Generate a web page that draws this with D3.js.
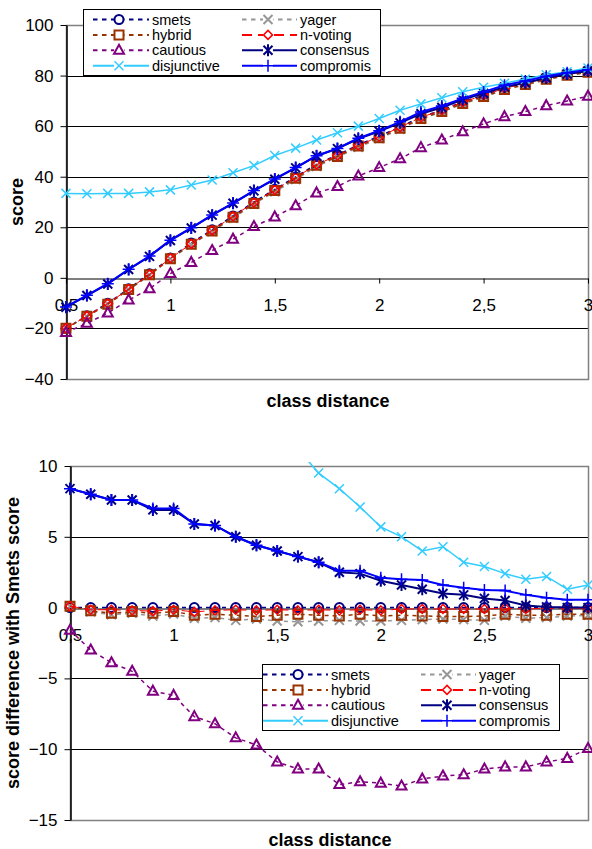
<!DOCTYPE html>
<html>
<head>
<meta charset="utf-8">
<script src="https://cdnjs.cloudflare.com/ajax/libs/d3/7.8.5/d3.min.js"></script>
<style>
    html, body { margin: 0; padding: 0; background: #fff; }
    svg { display: block; font-family: "Liberation Sans", Arial, sans-serif; }
</style>
</head>
<body>
<svg id="chart" width="592" height="849"></svg>
<script>

const classDistance = [0.5, 0.6, 0.7, 0.8, 0.9, 1.0, 1.1, 1.2, 1.3, 1.4, 1.5, 1.6, 1.7,
    1.8, 1.9, 2.0, 2.1, 2.2, 2.3, 2.4, 2.5, 2.6, 2.7, 2.8, 2.9, 3.0];
const distanceTicks = [0.5, 1, 1.5, 2, 2.5, 3];
const scoreTicks = [-40, -20, 0, 20, 40, 60, 80, 100];
const diffTicks = [-15, -10, -5, 0, 5, 10];

// top chart: score
const smetsScore = [-20, -15, -10, -4.3, 1.6, 7.9, 13.8, 19, 24.5, 30, 35, 39.9, 45, 48.6, 52.6, 56,
    59.7, 63.6, 66.4, 69.6, 72.3, 75, 77, 79, 80.6, 81.8];
const yagerScore = [-19.9, -15.3, -10.5, -4.7, 1, 7.45, 13.05, 18.3, 23.6, 29.2, 34.05, 38.9, 44.05,
    47.7, 51.65, 55.05, 58.8, 62.75, 65.6, 68.75, 71.4, 74.4, 76.25, 78.3, 80, 81.25];
const hybridScore = [-19.9, -15.2, -10.4, -4.6, 1.2, 7.6, 13.3, 18.5, 24, 29.4, 34.5, 39.4, 44.5,
    48, 52.1, 55.4, 59.2, 63, 65.8, 69, 71.7, 74.5, 76.5, 78.5, 80.1, 81.3];
const nVotingScore = [-19.9, -15.15, -10.15, -4.5, 1.35, 7.75, 13.5, 18.8, 24.35, 29.8, 34.8, 39.7,
    44.8, 48.4, 52.4, 55.8, 59.6, 63.5, 66.3, 69.5, 72.2, 74.95, 76.95, 78.95, 80.55, 81.75];
const cautiousScore = [-21.6, -18, -13.9, -8.8, -4.3, 1.7, 6.1, 10.8, 15.3, 20.3, 24.1, 28.5, 33.6,
    36.1, 40.3, 43.6, 47.1, 51.5, 54.5, 57.8, 60.9, 63.75, 65.75, 68.1, 69.95, 71.85];
const consensusScore = [-11.6, -7, -2.4, 3.3, 8.5, 14.8, 19.7, 24.8, 29.5, 34.4, 39, 43.5, 48.2,
    51.1, 55, 58, 61.3, 64.9, 67.4, 70.5, 72.95, 75.5, 77.15, 79.05, 80.6, 81.8];
const disjunctiveScore = [33.4, 33.3, 33.4, 33.4, 34, 34.8, 36.7, 38.7, 41.6, 44.4, 48.4, 51.3, 54.5,
    57.4, 60, 63, 66.3, 68.8, 71.2, 73.6, 75.4, 77, 78.6, 80.3, 81.5, 83];
const compromisScore = [-11.5, -6.9, -2.3, 3.4, 8.6, 14.9, 19.8, 24.9, 29.6, 34.5, 39.1, 43.6, 48.3,
    51.2, 55.2, 58.2, 61.7, 65.6, 68, 71, 73.55, 76.2, 77.9, 79.7, 81.15, 82.35];

// bottom chart: score difference with smets
const smetsDiff = [0, 0, 0, 0, 0, 0, 0, 0, 0, 0, 0, 0, 0, 0, 0, 0, 0, 0, 0, 0, 0, 0, 0, 0, 0, 0];
const yagerDiff = [0.1, -0.3, -0.5, -0.4, -0.6, -0.45, -0.75, -0.7, -0.9, -0.8, -0.95, -1, -0.95,
    -0.9, -0.95, -0.95, -0.9, -0.85, -0.8, -0.85, -0.9, -0.6, -0.75, -0.7, -0.6, -0.55];
const hybridDiff = [0.1, -0.23, -0.4, -0.28, -0.4, -0.28, -0.54, -0.47, -0.54, -0.63, -0.54, -0.47,
    -0.54, -0.59, -0.47, -0.59, -0.54, -0.59, -0.63, -0.63, -0.59, -0.47, -0.54, -0.54, -0.47, -0.47];
const nVotingDiff = [0.1, -0.15, -0.15, -0.2, -0.25, -0.15, -0.3, -0.2, -0.15, -0.2, -0.15, -0.2,
    -0.15, -0.2, -0.15, -0.2, -0.1, -0.1, -0.1, -0.1, -0.1, -0.05, -0.1, -0.05, -0.05, -0.05];
const cautiousDiff = [-1.6, -3, -3.9, -4.5, -5.9, -6.2, -7.7, -8.2, -9.2, -9.7, -10.9, -11.4, -11.4,
    -12.5, -12.3, -12.4, -12.6, -12.1, -11.9, -11.8, -11.4, -11.25, -11.25, -10.9, -10.65, -9.95];
const consensusDiff = [8.4, 8, 7.6, 7.6, 6.9, 6.9, 5.9, 5.8, 5, 4.4, 4, 3.6, 3.2, 2.5, 2.4, 1.9,
    1.6, 1.3, 1, 0.9, 0.65, 0.5, 0.15, 0.05, 0, 0];
const disjunctiveDiff = [53.4, 48.3, 43.4, 37.7, 32.2, 26.9, 22.9, 19.7, 17.1, 14.4, 13.4, 11.2, 9.5,
    8.4, 7.1, 5.7, 5, 4, 4.3, 3.2, 2.9, 2.4, 2, 2.2, 1.3, 1.6];
const compromisDiff = [8.4, 8, 7.6, 7.6, 7, 7, 5.9, 5.8, 5, 4.4, 4, 3.6, 3.2, 2.6, 2.6, 2.1,
    2, 1.95, 1.6, 1.4, 1.25, 1.2, 0.9, 0.7, 0.55, 0.55];

// series in drawing order (legend is filled row by row)
const seriesNames = ['smets', 'yager', 'hybrid', 'n-voting', 'cautious', 'consensus', 'disjunctive', 'compromis'];

const scoreValues = {
    'smets': smetsScore, 'yager': yagerScore, 'hybrid': hybridScore, 'n-voting': nVotingScore,
    'cautious': cautiousScore, 'consensus': consensusScore, 'disjunctive': disjunctiveScore, 'compromis': compromisScore
};
const diffValues = {
    'smets': smetsDiff, 'yager': yagerDiff, 'hybrid': hybridDiff, 'n-voting': nVotingDiff,
    'cautious': cautiousDiff, 'consensus': consensusDiff, 'disjunctive': disjunctiveDiff, 'compromis': compromisDiff
};

const markerPaths = {
    circle: 'M-4.5,0A4.5,4.5 0 1,0 4.5,0A4.5,4.5 0 1,0 -4.5,0Z',
    square: 'M-4.5,-4.5H4.5V4.5H-4.5Z',
    triangle: 'M0,-5.5L5,3.5H-5Z',
    diamond: 'M0,-4.5L4.5,0L0,4.5L-4.5,0Z',
    x: 'M-4.5,-4.5L4.5,4.5M4.5,-4.5L-4.5,4.5',
    plus: 'M0,-6V6M-6,0H6',
    star: 'M-4.5,-4.5L4.5,4.5M4.5,-4.5L-4.5,4.5M0,-6V6'
};

const styles = {
    'smets':       {color: '#000080', dash: '4,4', width: 1.5, marker: 'circle', mw: 2},
    'yager':       {color: '#969696', dash: '4,4', width: 1.5, marker: 'x', mw: 2},
    'hybrid':      {color: '#993300', dash: '4,4', width: 1.5, marker: 'square', mw: 2},
    'n-voting':    {color: '#FF0000', dash: '9,5', width: 1, marker: 'diamond', mw: 1.5},
    'cautious':    {color: '#800080', dash: '4,4', width: 1.5, marker: 'triangle', mw: 2},
    'consensus':   {color: '#000080', dash: null, width: 2, marker: 'star', mw: 2},
    'disjunctive': {color: '#33CCFF', dash: null, width: 1.5, marker: 'x', mw: 1.5},
    'compromis':   {color: '#0000FF', dash: null, width: 2, marker: 'plus', mw: 1.5}
};

const svg = d3.select('#chart');
const commaFormat = d => String(d).replace('.', ',');

function drawMarker(sel, name) {
    const s = styles[name];
    sel.append('path')
        .attr('d', markerPaths[s.marker])
        .attr('fill', 'none')
        .attr('stroke', s.color)
        .attr('stroke-width', s.mw);
}

function drawPanel({id, left, right, top, bottom, yDomain, yTicks, values, yTitle, yTitleX, xTitleY, legend}) {

    const x = d3.scaleLinear().domain([0.5, 3]).range([left, right]);
    const y = d3.scaleLinear().domain(yDomain).range([bottom, top]);
    const g = svg.append('g');

    // gridlines
    g.append('g')
        .selectAll('line')
        .data(yTicks.filter(t => t !== 0 && t !== yDomain[0] && t !== yDomain[1]))
        .join('line')
        .attr('x1', left).attr('x2', right)
        .attr('y1', d => Math.round(y(d)) + 0.5).attr('y2', d => Math.round(y(d)) + 0.5)
        .attr('stroke', '#000').attr('stroke-width', 1);

    // plot area border
    g.append('rect')
        .attr('x', left + 0.5).attr('y', Math.round(top) + 0.5)
        .attr('width', right - left).attr('height', Math.round(bottom) - Math.round(top))
        .attr('fill', 'none').attr('stroke', '#808080').attr('stroke-width', 1.5);

    // x axis crossing at 0
    const xAxisG = g.append('g')
        .attr('transform', `translate(0,${Math.round(y(0)) + 0.5})`)
        .call(d3.axisBottom(x).tickValues(distanceTicks).tickSize(5).tickSizeOuter(0)
            .tickPadding(15).tickFormat(commaFormat));
    xAxisG.select('.domain').attr('stroke', '#000');
    xAxisG.selectAll('.tick line').attr('stroke', '#000');
    xAxisG.selectAll('text').attr('font-size', 17).attr('font-family', null).attr('fill', '#000');

    // y axis
    const yAxisG = g.append('g')
        .attr('transform', `translate(${left + 0.5},0)`)
        .call(d3.axisLeft(y).tickValues(yTicks).tickSize(6).tickSizeOuter(0).tickPadding(7));
    yAxisG.select('.domain').attr('stroke', '#000').attr('stroke-width', 1.5);
    yAxisG.selectAll('.tick line').attr('stroke', '#000');
    yAxisG.selectAll('text').attr('font-size', 17).attr('font-family', null).attr('fill', '#000');

    // axis titles
    g.append('text')
        .attr('transform', `translate(${yTitleX},${(top + bottom) / 2}) rotate(-90)`)
        .attr('text-anchor', 'middle')
        .attr('dominant-baseline', 'central')
        .attr('font-size', 18).attr('font-weight', 'bold')
        .text(yTitle);
    g.append('text')
        .attr('x', (left + right) / 2 + 1).attr('y', xTitleY)
        .attr('text-anchor', 'middle')
        .attr('font-size', 18).attr('font-weight', 'bold')
        .text('class distance');

    // series
    g.append('clipPath').attr('id', id + '-clip')
        .append('rect').attr('x', 0).attr('y', top - 4).attr('width', 592).attr('height', bottom - top + 14);

    const plot = g.append('g').attr('clip-path', `url(#${id}-clip)`);
    const line = d3.line().x((d, i) => x(classDistance[i])).y(d => y(d));

    seriesNames.forEach(name => {
        const s = styles[name];
        const data = values[name];
        plot.append('path')
            .datum(data)
            .attr('d', line)
            .attr('fill', 'none')
            .attr('stroke', s.color)
            .attr('stroke-width', s.width)
            .attr('stroke-dasharray', s.dash);
        plot.append('g')
            .selectAll('g')
            .data(data)
            .join('g')
            .attr('transform', (d, i) => `translate(${x(classDistance[i])},${y(d)})`)
            .each(function () { drawMarker(d3.select(this), name); });
    });

    // legend
    const lg = g.append('g').attr('transform', `translate(${legend.x},${legend.y})`);
    lg.append('rect')
        .attr('x', 0.5).attr('y', 0.5).attr('width', 297).attr('height', 66)
        .attr('fill', '#fff').attr('stroke', '#000').attr('stroke-width', 1);

    seriesNames.forEach((name, i) => {
        const s = styles[name];
        const col = i % 2;
        const row = Math.floor(i / 2);
        const x0 = col === 0 ? legend.lineStart : 159;
        const x1 = col === 0 ? 66 : 214;
        const mx = col === 0 ? 36 : 185;
        const ry = 10.5 + row * 15.4;
        const item = lg.append('g');
        item.append('line')
            .attr('x1', x0).attr('x2', x1).attr('y1', ry).attr('y2', ry)
            .attr('stroke', s.color)
            .attr('stroke-width', s.dash ? 2 : 2)
            .attr('stroke-dasharray', s.dash ? (name === 'n-voting' ? '10,6' : '4.5,4.5') : null);
        item.append('g')
            .attr('transform', `translate(${mx},${ry})`)
            .call(sel => {
                sel.append('rect').attr('x', -5).attr('y', -5).attr('width', 10).attr('height', 10)
                    .attr('fill', '#fff');
                drawMarker(sel, name);
            });
        item.append('text')
            .attr('x', col === 0 ? 69 : 217)
            .attr('y', ry)
            .attr('dominant-baseline', 'central')
            .attr('font-size', 14.5)
            .text(name);
    });
}

drawPanel({
    id: 'score',
    left: 66, right: 588, top: 25, bottom: 379,
    yDomain: [-40, 100], yTicks: scoreTicks,
    values: scoreValues,
    yTitle: 'score', yTitleX: 17, xTitleY: 407,
    legend: {x: 83, y: 9, lineStart: 10}
});

drawPanel({
    id: 'diff',
    left: 70, right: 588, top: 466, bottom: 820,
    yDomain: [-15, 10], yTicks: diffTicks,
    values: diffValues,
    yTitle: 'score difference with Smets score', yTitleX: 13, xTitleY: 846,
    legend: {x: 262, y: 664, lineStart: 1}
});

</script>
</body>
</html>
